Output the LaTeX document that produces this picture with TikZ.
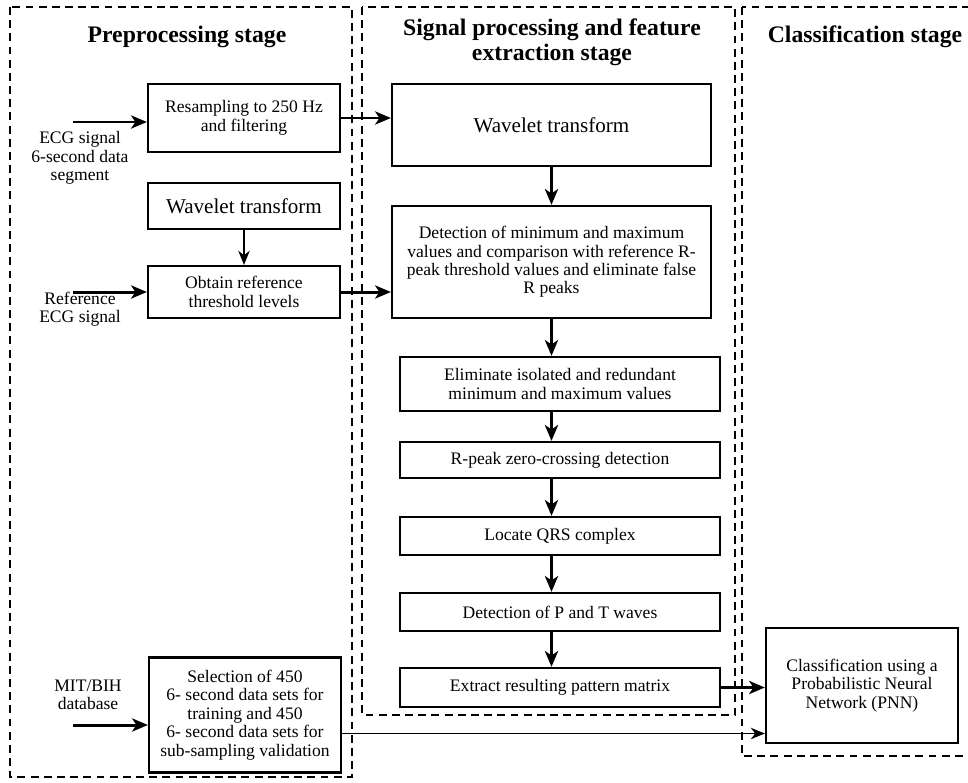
\documentclass[tikz,border=0pt]{standalone}
\usepackage{fontspec}
\setmainfont{Liberation Serif}
\usepackage{tikz}
\usetikzlibrary{arrows,arrows.meta,positioning}
\tikzstyle{arrow} = [line width=1.7pt,-{Stealth[length=9pt,width=7.5pt,inset=2.5pt]}]
\tikzstyle{thinarrow} = [line width=0.8pt,-{Stealth[length=8pt,width=6.5pt,inset=2.5pt]}]
\tikzstyle{procbox} = [rectangle, draw, line width=1.3pt, align=center, inner sep=2pt, font=\fontsize{10}{10.5}\selectfont]
\tikzstyle{stageframe} = [draw, line width=1pt, dash pattern=on 4.5pt off 3pt]
\tikzstyle{stagetitle} = [align=center, font=\fontsize{13.5}{14.2}\selectfont\bfseries]
\tikzstyle{inlabel} = [align=center, font=\fontsize{10}{10.5}\selectfont]

\begin{document}
\begin{tikzpicture}[x=0.02cm, y=-0.02cm]
\clip (0,0) rectangle (968,782);

% Stage frames
\draw[stageframe] (10,7) rectangle (352,777);
\draw[stageframe] (362,7) rectangle (735,715);
\draw[stageframe] (742,7) rectangle (990,756);

% Titles
\node (pretitle) [stagetitle] at (187,37) {Preprocessing stage};
\node (sigtitle) [stagetitle] at (552,42) {Signal processing and feature\\extraction stage};
\node (clstitle) [stagetitle] at (865,37) {Classification stage};

% Preprocessing stage
\node (resamp) [procbox, minimum width=3.84cm, minimum height=1.36cm] at (244,118) {Resampling to 250 Hz\\and filtering};
\node (wsmall) [procbox, minimum width=3.84cm, minimum height=0.92cm, font=\fontsize{12}{13}\selectfont] at (244,206) {Wavelet transform};
\node (obtain) [procbox, minimum width=3.84cm, minimum height=1.04cm] at (244,292) {Obtain reference\\threshold levels};
\node (select) [procbox, minimum width=3.84cm, minimum height=2.3cm] at (245,715) {Selection of 450\\6- second data sets for\\training and 450\\6- second data sets for\\sub-sampling validation};

% Inputs
\node (ecglabel) [inlabel] at (80,158) {ECG signal\\6-second data\\segment};
\node (reflabel) [inlabel] at (80,309) {Reference\\ECG signal};
\node (mitlabel) [inlabel] at (88,695) {MIT/BIH\\database};
\coordinate (ecgin) at (73,122);
\coordinate (refin) at (73,292);
\coordinate (mitin) at (73,725);

% Signal processing and feature extraction stage
\node (wave) [procbox, minimum width=6.38cm, minimum height=1.64cm, font=\fontsize{12}{13}\selectfont] at (551.5,125) {Wavelet transform};
\node (detect) [procbox, minimum width=6.38cm, minimum height=2.24cm] at (551.5,262) {Detection of minimum and maximum\\values and comparison with reference R-\\peak threshold values and eliminate false\\R peaks};
\node (elim) [procbox, minimum width=6.4cm, minimum height=1.08cm] at (560,384) {Eliminate isolated and redundant\\minimum and maximum values};
\node (rpeak) [procbox, minimum width=6.4cm, minimum height=0.72cm] at (560,460) {R-peak zero-crossing detection};
\node (qrs) [procbox, minimum width=6.4cm, minimum height=0.76cm] at (560,536) {Locate QRS complex};
\node (ptwave) [procbox, minimum width=6.4cm, minimum height=0.76cm] at (560,612) {Detection of P and T waves};
\node (extract) [procbox, minimum width=6.4cm, minimum height=0.78cm] at (560,687.5) {Extract resulting pattern matrix};

% Classification stage
\node (pnn) [procbox, minimum width=3.84cm, minimum height=2.3cm] at (862,685.5) {Classification using a\\Probabilistic Neural\\Network (PNN)};

% Arrows
\draw[arrow] (ecgin) -- (resamp.west |- ecgin);
\draw[arrow] (refin) -- (obtain.west |- refin);
\draw[arrow] (mitin) -- (select.west |- mitin);
\draw[thinarrow] (wsmall) -- (obtain);
\draw[arrow] (resamp.east) -- (wave.west |- resamp.east);
\draw[arrow] (obtain.east) -- (detect.west |- obtain.east);
\draw[arrow] (wave) -- (detect);
\draw[arrow] (detect.south) -- (elim.north -| detect.south);
\draw[arrow] (elim.south -| detect.south) -- (rpeak.north -| detect.south);
\draw[arrow] (rpeak.south -| detect.south) -- (qrs.north -| detect.south);
\draw[arrow] (qrs.south -| detect.south) -- (ptwave.north -| detect.south);
\draw[arrow] (ptwave.south -| detect.south) -- (extract.north -| detect.south);
\draw[arrow] (extract.east) -- (pnn.west |- extract.east);
\draw[thinarrow] ([yshift=-0.37cm]select.east) -- ([yshift=-0.37cm]select.east -| pnn.west);
\end{tikzpicture}
\end{document}
